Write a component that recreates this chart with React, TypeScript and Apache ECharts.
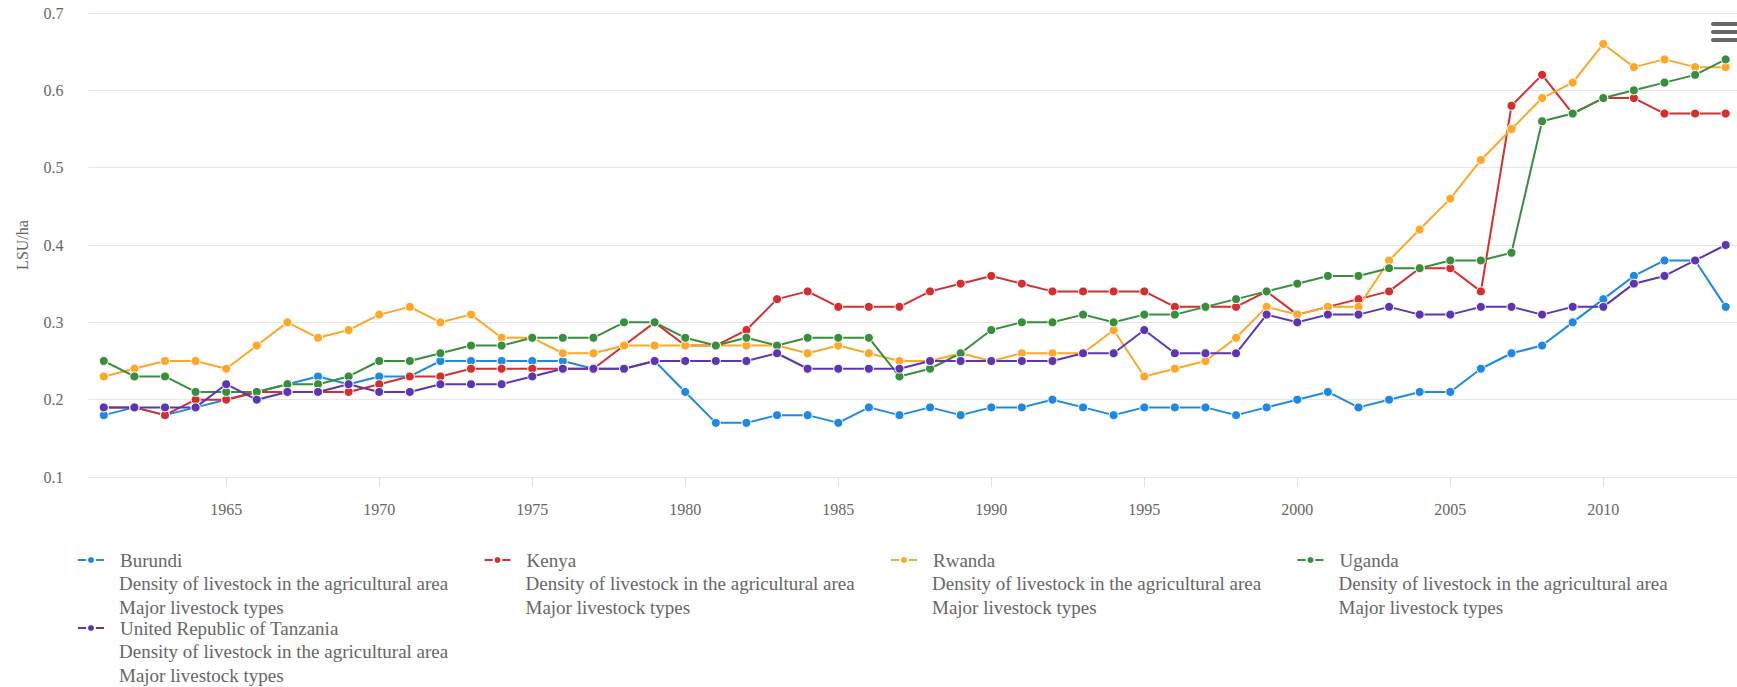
import React, { useEffect, useRef } from "react";
import * as echarts from "echarts";

const years = [
  "1961","1962","1963","1964","1965","1966","1967","1968","1969","1970",
  "1971","1972","1973","1974","1975","1976","1977","1978","1979","1980",
  "1981","1982","1983","1984","1985","1986","1987","1988","1989","1990",
  "1991","1992","1993","1994","1995","1996","1997","1998","1999","2000",
  "2001","2002","2003","2004","2005","2006","2007","2008","2009","2010",
  "2011","2012","2013","2014",
];

const burundi = [
  0.18, 0.19, 0.18, 0.19, 0.2, 0.21, 0.22, 0.23, 0.22, 0.23,
  0.23, 0.25, 0.25, 0.25, 0.25, 0.25, 0.24, 0.24, 0.25, 0.21,
  0.17, 0.17, 0.18, 0.18, 0.17, 0.19, 0.18, 0.19, 0.18, 0.19,
  0.19, 0.2, 0.19, 0.18, 0.19, 0.19, 0.19, 0.18, 0.19, 0.2,
  0.21, 0.19, 0.2, 0.21, 0.21, 0.24, 0.26, 0.27, 0.3, 0.33,
  0.36, 0.38, 0.38, 0.32,
];
const kenya = [
  0.19, 0.19, 0.18, 0.2, 0.2, 0.21, 0.21, 0.21, 0.21, 0.22,
  0.23, 0.23, 0.24, 0.24, 0.24, 0.24, 0.24, 0.27, 0.3, 0.27,
  0.27, 0.29, 0.33, 0.34, 0.32, 0.32, 0.32, 0.34, 0.35, 0.36,
  0.35, 0.34, 0.34, 0.34, 0.34, 0.32, 0.32, 0.32, 0.34, 0.31,
  0.32, 0.33, 0.34, 0.37, 0.37, 0.34, 0.58, 0.62, 0.57, 0.59,
  0.59, 0.57, 0.57, 0.57,
];
const rwanda = [
  0.23, 0.24, 0.25, 0.25, 0.24, 0.27, 0.3, 0.28, 0.29, 0.31,
  0.32, 0.3, 0.31, 0.28, 0.28, 0.26, 0.26, 0.27, 0.27, 0.27,
  0.27, 0.27, 0.27, 0.26, 0.27, 0.26, 0.25, 0.25, 0.26, 0.25,
  0.26, 0.26, 0.26, 0.29, 0.23, 0.24, 0.25, 0.28, 0.32, 0.31,
  0.32, 0.32, 0.38, 0.42, 0.46, 0.51, 0.55, 0.59, 0.61, 0.66,
  0.63, 0.64, 0.63, 0.63,
];
const uganda = [
  0.25, 0.23, 0.23, 0.21, 0.21, 0.21, 0.22, 0.22, 0.23, 0.25,
  0.25, 0.26, 0.27, 0.27, 0.28, 0.28, 0.28, 0.3, 0.3, 0.28,
  0.27, 0.28, 0.27, 0.28, 0.28, 0.28, 0.23, 0.24, 0.26, 0.29,
  0.3, 0.3, 0.31, 0.3, 0.31, 0.31, 0.32, 0.33, 0.34, 0.35,
  0.36, 0.36, 0.37, 0.37, 0.38, 0.38, 0.39, 0.56, 0.57, 0.59,
  0.6, 0.61, 0.62, 0.64,
];
const tanzania = [
  0.19, 0.19, 0.19, 0.19, 0.22, 0.2, 0.21, 0.21, 0.22, 0.21,
  0.21, 0.22, 0.22, 0.22, 0.23, 0.24, 0.24, 0.24, 0.25, 0.25,
  0.25, 0.25, 0.26, 0.24, 0.24, 0.24, 0.24, 0.25, 0.25, 0.25,
  0.25, 0.25, 0.26, 0.26, 0.29, 0.26, 0.26, 0.26, 0.31, 0.3,
  0.31, 0.31, 0.32, 0.31, 0.31, 0.32, 0.32, 0.31, 0.32, 0.32,
  0.35, 0.36, 0.38, 0.4,
];

const seriesNames = ["Burundi", "Kenya", "Rwanda", "Uganda", "United Republic of Tanzania"];
const seriesData = [burundi, kenya, rwanda, uganda, tanzania];
const seriesColors = ["#1E88E5", "#D32F2F", "#FFA726", "#388E3C", "#5E35B1"];
const subLines = ["Density of livestock in the agricultural area", "Major livestock types"];
const yAxisName = "LSU/ha";

const FONT = '"Liberation Serif", "Times New Roman", serif';
const legendLeft = [77, 483.5, 890, 1296.5, 77];
const legendTop = [550, 550, 550, 550, 618];

export default function App() {
  const ref = useRef<HTMLDivElement>(null);
  useEffect(() => {
    if (!ref.current) return;
    const chart = echarts.init(ref.current, null, { renderer: "svg" });
    const showYear = (_i: number, v: string) => Number(v) % 5 === 0;

    const legends = seriesNames.map((n, i) => ({
      data: [n],
      left: legendLeft[i],
      top: legendTop[i],
      padding: 0,
      itemWidth: 26,
      itemHeight: 10,
      textStyle: {
        fontSize: 19,
        fontFamily: FONT,
        color: "#666",
        lineHeight: 20,
        padding: [0, 0, 0, 11],
      },
    }));

    const graphics: any[] = [];
    seriesNames.forEach((_n, i) => {
      const tx = legendLeft[i] + 42;
      const cy = legendTop[i] + 10;
      subLines.forEach((t, j) => {
        graphics.push({
          type: "text",
          x: tx,
          y: cy + 23.7 * (j + 1),
          style: {
            text: t,
            fill: "#666",
            fontSize: 19,
            fontFamily: FONT,
            verticalAlign: "middle",
          },
        });
      });
    });
    [22, 30, 38].forEach((y) => {
      graphics.push({
        type: "rect",
        shape: { x: 1711, y, width: 32, height: 4, r: 2 },
        style: { fill: "#666" },
      });
    });

    chart.setOption({
      animation: false,
      color: seriesColors,
      grid: { left: 88.5, right: 0, top: 13, height: 464, containLabel: false },
      legend: legends,
      graphic: graphics,
      xAxis: {
        type: "category",
        data: years,
        boundaryGap: true,
        axisLine: { show: true, lineStyle: { color: "#e6e6e6", width: 1 } },
        axisTick: {
          show: true,
          alignWithLabel: true,
          interval: showYear,
          length: 10,
          lineStyle: { color: "#e0e0e0" },
        },
        axisLabel: {
          interval: showYear,
          margin: 24,
          fontSize: 16,
          fontFamily: FONT,
          color: "#666",
        },
        splitLine: { show: false },
      },
      yAxis: {
        type: "value",
        min: 0.1,
        max: 0.7,
        interval: 0.1,
        name: yAxisName,
        nameLocation: "middle",
        nameGap: 58,
        nameTextStyle: { fontSize: 16, fontFamily: FONT, color: "#666" },
        axisLine: { show: false },
        axisTick: { show: false },
        axisLabel: {
          margin: 25,
          fontSize: 16,
          fontFamily: FONT,
          color: "#666",
          formatter: (v: number) => v.toFixed(1),
        },
        splitLine: { lineStyle: { color: "#e6e6e6", width: 1 } },
      },
      series: seriesNames.map((n, i) => ({
        name: n,
        type: "line",
        data: seriesData[i],
        symbol: "circle",
        symbolSize: 9,
        showSymbol: true,
        lineStyle: { width: 2, color: seriesColors[i] },
        itemStyle: { color: seriesColors[i], borderColor: "#fff", borderWidth: 1 },
      })),
    });
    return () => chart.dispose();
  }, []);
  return (
    <div
      ref={ref}
      style={{ position: "fixed", left: 0, top: 0, width: 1741, height: 687, background: "#fff" }}
    />
  );
}
